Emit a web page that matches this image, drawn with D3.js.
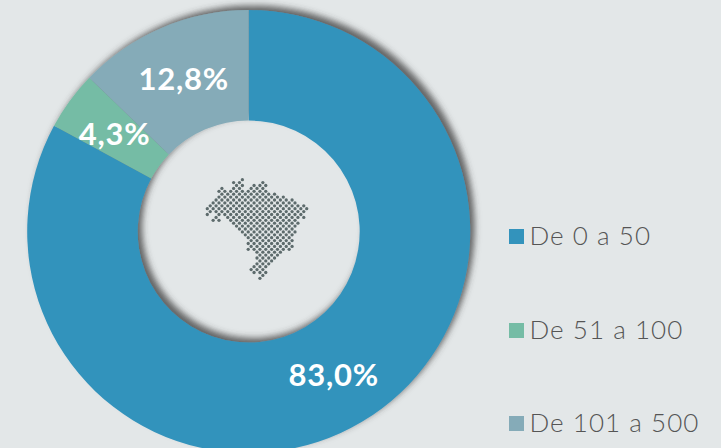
<!DOCTYPE html>
<html><head><meta charset="utf-8">
<script src="https://cdn.jsdelivr.net/npm/d3@7"></script>
<style>html,body{margin:0;padding:0;background:#e3e7e8;overflow:hidden}svg{display:block}</style>
</head><body><svg id="c" width="721" height="448"></svg>
<script>
const categories = ["De 0 a 50", "De 51 a 100", "De 101 a 500"];
const values = [83.0, 4.3, 12.8];
const valueLabels = ["83,0%", "4,3%", "12,8%"];
const colors = ["#3393bc", "#75bca5", "#85abb8"];
// Dot-map of Brazil: for each lattice row, the spans of lattice columns that hold a dot
const mapRows = [
 [[12,12]],[[9,9],[11,11],[19,19]],[[10,10],[12,12],[16,16],[18,18],[20,20]],
 [[5,5],[9,11],[15,19]],[[4,20]],[[5,21],[23,23]],[[4,26]],[[3,29]],[[2,30]],
 [[1,31],[33,33]],[[0,34]],[[1,33]],[[0,0],[4,32]],[[3,3],[7,33]],[[2,4],[8,30]],
 [[9,31]],[[10,30]],[[11,29]],[[12,30]],[[13,29]],[[14,28]],[[15,29]],[[14,28]],
 [[15,29]],[[14,28]],[[17,25]],[[18,24]],[[17,23]],[[18,22]],[[17,21]],[[16,20]],
 [[15,19]],[[16,16],[18,18],[20,20]],[[19,19]],[[18,18]]
];
const W = 721, H = 448, cx = 248.7, cy = 231.5, R = 221.5, r0 = 111;
const svg = d3.select("#c");
const defs = svg.append("defs");
const f = defs.append("filter").attr("id","sh").attr("x","-10%").attr("y","-10%").attr("width","120%").attr("height","120%");
f.append("feDropShadow").attr("dx",4.5).attr("dy",-4.5).attr("stdDeviation",3).attr("flood-color","#3a3a3a").attr("flood-opacity",0.75);

const pie = d3.pie().sort(null).value(d=>d)(values);
const arc = d3.arc().innerRadius(r0).outerRadius(R);
const g = svg.append("g").attr("transform",`translate(${cx},${cy})`);
g.append("g").attr("filter","url(#sh)").selectAll("path").data(pie).join("path")
  .attr("d",arc).attr("fill",(d,i)=>colors[i]);
g.selectAll("text").data(pie).join("text")
  .attr("transform",d=>{const c=arc.centroid(d);return `translate(${c[0]},${c[1]+0.5})`;})
  .attr("text-anchor","middle").attr("dy","0.37em")
  .attr("font-family","'Century Gothic','URW Gothic',Lato,sans-serif")
  .attr("font-weight",700).attr("font-size",31).attr("letter-spacing",0.8).attr("fill","#fff")
  .text((d,i)=>valueLabels[i]);

// map
const mx = d3.scaleLinear().domain([0,34]).range([207.3,306.7]);
const my = d3.scaleLinear().domain([0,34]).range([179.7,278.3]);
const dots = [];
mapRows.forEach((spans,r)=>spans.forEach(([a,b])=>{for(let c=a;c<=b;c+=2)dots.push({r,c});}));
svg.append("g").selectAll("circle").data(dots).join("circle")
  .attr("cx",d=>mx(d.c)).attr("cy",d=>my(d.r)).attr("r",1.65).attr("fill","#5d6b6c");

// legend
const ly = d3.scaleOrdinal().domain(categories).range([236.5,330.5,423.5]);
const lg = svg.append("g").selectAll("g").data(categories).join("g")
  .attr("transform",d=>`translate(509,${ly(d)})`);
lg.append("rect").attr("y",-7.5).attr("width",15).attr("height",15).attr("fill",(d,i)=>colors[i]);
lg.append("text").attr("x",20.5).attr("y",8.5)
  .attr("font-family","'Century Gothic','URW Gothic',Lato,sans-serif")
  .attr("font-weight",300).attr("font-size",26).attr("fill","#555").attr("letter-spacing",1.05).text(d=>d);
</script></body></html>
